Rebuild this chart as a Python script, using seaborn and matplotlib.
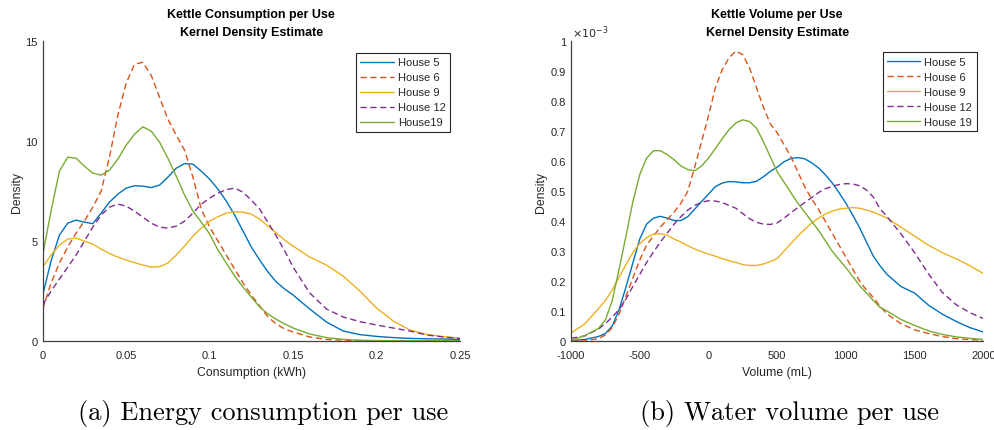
import numpy as np
import pandas as pd
import matplotlib
matplotlib.use("Agg")
import matplotlib.pyplot as plt
import seaborn as sns

# ---------------- data: (a) energy consumption per use ----------------
energy_kwh = [0.0, 0.005, 0.01, 0.015, 0.02, 0.025, 0.03, 0.035, 0.04, 0.045,
              0.05, 0.055, 0.06, 0.065, 0.07, 0.075, 0.08, 0.085, 0.09, 0.095,
              0.1, 0.105, 0.11, 0.115, 0.12, 0.125, 0.13, 0.135, 0.14, 0.145,
              0.15, 0.16, 0.17, 0.18, 0.19, 0.2, 0.21, 0.22, 0.23, 0.24, 0.25]
energy_house5 = [2.3, 4.0, 5.3, 5.9, 6.05, 5.95, 5.87, 6.4, 6.95, 7.35,
                 7.65, 7.77, 7.75, 7.68, 7.8, 8.2, 8.65, 8.88, 8.85, 8.5,
                 8.1, 7.6, 7.0, 6.3, 5.5, 4.7, 4.05, 3.45, 2.95, 2.6,
                 2.3, 1.6, 0.95, 0.5, 0.32, 0.23, 0.17, 0.13, 0.11, 0.1, 0.08]
energy_house6 = [1.6, 2.9, 3.9, 4.7, 5.4, 6.0, 6.7, 7.5, 9.2, 11.3,
                 12.9, 13.85, 13.95, 13.3, 12.2, 11.1, 10.3, 9.55, 8.2, 6.6,
                 5.7, 5.0, 4.3, 3.6, 2.9, 2.3, 1.75, 1.2, 0.85, 0.6,
                 0.45, 0.2, 0.08, 0.04, 0.02, 0.01, 0.01, 0.01, 0.01, 0.01, 0.01]
energy_house9 = [3.7, 4.3, 4.8, 5.1, 5.15, 5.0, 4.85, 4.6, 4.38, 4.2,
                 4.05, 3.92, 3.8, 3.7, 3.72, 3.9, 4.3, 4.75, 5.25, 5.65,
                 6.0, 6.22, 6.4, 6.47, 6.45, 6.35, 6.1, 5.75, 5.4, 5.05,
                 4.75, 4.2, 3.8, 3.25, 2.5, 1.65, 1.0, 0.55, 0.33, 0.22, 0.15]
energy_house12 = [1.8, 2.5, 3.1, 3.7, 4.3, 5.0, 5.7, 6.3, 6.7, 6.85,
                  6.75, 6.5, 6.2, 5.9, 5.7, 5.65, 5.75, 6.0, 6.4, 6.85,
                  7.15, 7.4, 7.58, 7.65, 7.45, 7.05, 6.6, 5.93, 5.25, 4.5,
                  3.7, 2.4, 1.6, 1.2, 0.97, 0.8, 0.65, 0.5, 0.3, 0.2, 0.12]
energy_house19 = [4.3, 6.5, 8.5, 9.2, 9.15, 8.75, 8.4, 8.3, 8.55, 9.1,
                  9.8, 10.35, 10.72, 10.5, 9.95, 9.15, 8.25, 7.3, 6.5, 5.95,
                  5.35, 4.55, 3.9, 3.25, 2.7, 2.2, 1.7, 1.35, 1.08, 0.85,
                  0.65, 0.35, 0.17, 0.08, 0.04, 0.02, 0.015, 0.01, 0.01, 0.01, 0.01]
energy_labels = ["House 5", "House 6", "House 9", "House 12", "House19"]

# ---------------- data: (b) water volume per use (density x 1e-3) ----------------
volume_ml = [-1000, -900, -800, -750, -700, -650, -600, -550, -500, -450,
             -400, -350, -300, -250, -200, -150, -100, -50, 0, 50,
             100, 150, 200, 250, 300, 350, 400, 450, 500, 550,
             600, 650, 700, 750, 800, 850, 900, 950, 1000, 1050,
             1100, 1150, 1200, 1250, 1300, 1400, 1500, 1600, 1700, 1800,
             1900, 2000]
volume_house5 = [0.001, 0.005, 0.015, 0.025, 0.05, 0.105, 0.18, 0.26, 0.34, 0.39,
                 0.41, 0.416, 0.41, 0.402, 0.402, 0.415, 0.44, 0.465, 0.49, 0.515,
                 0.527, 0.532, 0.531, 0.528, 0.528, 0.533, 0.548, 0.566, 0.58, 0.598,
                 0.609, 0.612, 0.608, 0.595, 0.578, 0.555, 0.528, 0.495, 0.46, 0.42,
                 0.378, 0.33, 0.283, 0.25, 0.222, 0.182, 0.16, 0.12, 0.09, 0.066,
                 0.045, 0.03]
volume_house6 = [0.0, 0.0, 0.008, 0.02, 0.045, 0.09, 0.15, 0.21, 0.27, 0.32,
                 0.35, 0.38, 0.405, 0.43, 0.46, 0.50, 0.58, 0.665, 0.75, 0.845,
                 0.905, 0.945, 0.968, 0.955, 0.91, 0.845, 0.78, 0.725, 0.695, 0.655,
                 0.615, 0.565, 0.515, 0.475, 0.44, 0.40, 0.36, 0.32, 0.28, 0.24,
                 0.2, 0.17, 0.145, 0.115, 0.09, 0.058, 0.037, 0.025, 0.015, 0.008,
                 0.005, 0.003]
volume_house9 = [0.027, 0.057, 0.108, 0.135, 0.17, 0.213, 0.255, 0.295, 0.325, 0.345,
                 0.357, 0.358, 0.353, 0.34, 0.33, 0.318, 0.307, 0.298, 0.29, 0.283,
                 0.275, 0.268, 0.262, 0.255, 0.252, 0.252, 0.257, 0.265, 0.275, 0.3,
                 0.325, 0.35, 0.372, 0.393, 0.41, 0.423, 0.433, 0.44, 0.443, 0.445,
                 0.443, 0.437, 0.43, 0.42, 0.41, 0.38, 0.35, 0.32, 0.295, 0.275,
                 0.252, 0.225]
volume_house12 = [0.009, 0.017, 0.04, 0.058, 0.08, 0.105, 0.14, 0.182, 0.222, 0.262,
                  0.297, 0.33, 0.36, 0.39, 0.415, 0.437, 0.452, 0.463, 0.468, 0.467,
                  0.462, 0.452, 0.443, 0.425, 0.408, 0.396, 0.39, 0.389, 0.394, 0.41,
                  0.428, 0.445, 0.462, 0.478, 0.495, 0.508, 0.516, 0.522, 0.525, 0.524,
                  0.518, 0.504, 0.48, 0.44, 0.415, 0.358, 0.295, 0.225, 0.163, 0.122,
                  0.095, 0.075]
volume_house19 = [0.001, 0.018, 0.042, 0.07, 0.135, 0.24, 0.35, 0.465, 0.555, 0.61,
                  0.635, 0.635, 0.622, 0.605, 0.584, 0.572, 0.568, 0.584, 0.61, 0.642,
                  0.675, 0.705, 0.728, 0.738, 0.732, 0.71, 0.665, 0.615, 0.565, 0.53,
                  0.495, 0.46, 0.43, 0.4, 0.37, 0.335, 0.3, 0.272, 0.245, 0.215,
                  0.185, 0.16, 0.135, 0.112, 0.1, 0.072, 0.052, 0.034, 0.022, 0.014,
                  0.009, 0.005]
volume_labels = ["House 5", "House 6", "House 9", "House 12", "House 19"]

# ---------------- styles ----------------
colors = ["#0072BD", "#D95319", "#EDB120", "#7E2F8E", "#77AC30"]
dash_styles = ["", (4.5, 2.6), "", (4.5, 2.6), ""]

sns.set_style("white")
plt.rcParams["font.family"] = ["Liberation Sans", "DejaVu Sans"]
TXT = "#262626"


def long_frame(x, series, labels):
    frames = []
    for lab, ys in zip(labels, series):
        frames.append(pd.DataFrame({"x": x, "density": ys, "house": lab}))
    return pd.concat(frames, ignore_index=True)


df_e = long_frame(energy_kwh,
                  [energy_house5, energy_house6, energy_house9, energy_house12, energy_house19],
                  energy_labels)
df_v = long_frame(volume_ml,
                  [volume_house5, volume_house6, volume_house9, volume_house12, volume_house19],
                  volume_labels)
df_v["density"] = df_v["density"] * 1e-3

W, H = 994, 431
fig = plt.figure(figsize=(W / 100, H / 100), dpi=100)
axL = fig.add_axes([42.7 / W, 1 - 342 / H, (460 - 42.7) / W, (342 - 42.3) / H])
axR = fig.add_axes([571 / W, 1 - 342 / H, (983.3 - 571) / W, (342 - 42.3) / H])


def draw(ax, df, labels):
    sns.lineplot(data=df, x="x", y="density", hue="house", style="house",
                 hue_order=labels, style_order=labels,
                 palette=dict(zip(labels, colors)),
                 dashes=dict(zip(labels, dash_styles)),
                 linewidth=1.0, estimator=None, errorbar=None, sort=False,
                 legend=False, ax=ax)
    leg = ax.legend(ax.get_lines()[:5], labels, loc="upper right",
                    frameon=True, fancybox=False, framealpha=1,
                    edgecolor=TXT, fontsize=8, handlelength=3.0,
                    handletextpad=0.35, labelspacing=0.45, borderpad=0.4,
                    borderaxespad=0)
    leg.get_frame().set_linewidth(0.8)
    for t in leg.get_texts():
        t.set_color(TXT)
    for side in ("top", "right"):
        ax.spines[side].set_visible(False)
    for side in ("left", "bottom"):
        ax.spines[side].set_color("#404040")
        ax.spines[side].set_linewidth(0.9)
    ax.tick_params(axis="both", direction="in", length=3.5, width=0.8,
                   colors=TXT, labelsize=8)
    ax.tick_params(axis="x", pad=6.5)
    ax.tick_params(axis="y", pad=3.5)
    return leg


legL = draw(axL, df_e, energy_labels)
legL.set_bbox_to_anchor((0.976, 0.961), transform=axL.transAxes)
axL.set_xlim(0, 0.25)
axL.set_ylim(0, 15)
axL.set_xticks([0, 0.05, 0.1, 0.15, 0.2, 0.25])
axL.set_xticklabels(["0", "0.05", "0.1", "0.15", "0.2", "0.25"])
axL.set_yticks([0, 5, 10, 15])
axL.set_yticklabels(["0", "5", "10", "15"])
axL.set_xlabel("Consumption (kWh)", fontsize=8.8, color=TXT)
axL.set_ylabel("Density", fontsize=8.8, color=TXT)
axL.xaxis.set_label_coords(0.5, -0.083)
axL.yaxis.set_label_coords(-0.047, 0.5)
axL.set_title("Kettle Consumption per Use\nKernel Density Estimate",
              fontsize=9, fontweight="bold", color="black", pad=4.5, linespacing=1.7)

legR = draw(axR, df_v, volume_labels)
legR.set_bbox_to_anchor((0.984, 0.964), transform=axR.transAxes)
axR.set_xlim(-1000, 2000)
axR.set_ylim(0, 1e-3)
axR.set_xticks([-1000, -500, 0, 500, 1000, 1500, 2000])
axR.set_xticklabels(["-1000", "-500", "0", "500", "1000", "1500", "2000"])
yt = [0, 0.1, 0.2, 0.3, 0.4, 0.5, 0.6, 0.7, 0.8, 0.9, 1.0]
axR.set_yticks([v * 1e-3 for v in yt])
axR.set_yticklabels(["0", "0.1", "0.2", "0.3", "0.4", "0.5", "0.6", "0.7", "0.8", "0.9", "1"])
axR.set_xlabel("Volume (mL)", fontsize=8.8, color=TXT)
axR.set_ylabel("Density", fontsize=8.8, color=TXT)
axR.xaxis.set_label_coords(0.5, -0.083)
axR.yaxis.set_label_coords(-0.057, 0.5)
axR.set_title("Kettle Volume per Use\nKernel Density Estimate",
              fontsize=9, fontweight="bold", color="black", pad=4.5, linespacing=1.7)
axR.text(0.003, 1.004, r"$\times10^{-3}$", transform=axR.transAxes,
         ha="left", va="bottom", fontsize=8, color=TXT)

fig.text(263.3 / W, 1 - 420 / H, "(a) Energy consumption per use",
         family="cmr10", fontsize=19, ha="center", va="baseline", color="black")
fig.text(790 / W, 1 - 420 / H, "(b) Water volume per use",
         family="cmr10", fontsize=19, ha="center", va="baseline", color="black")

fig.savefig("out.png", dpi=100)
